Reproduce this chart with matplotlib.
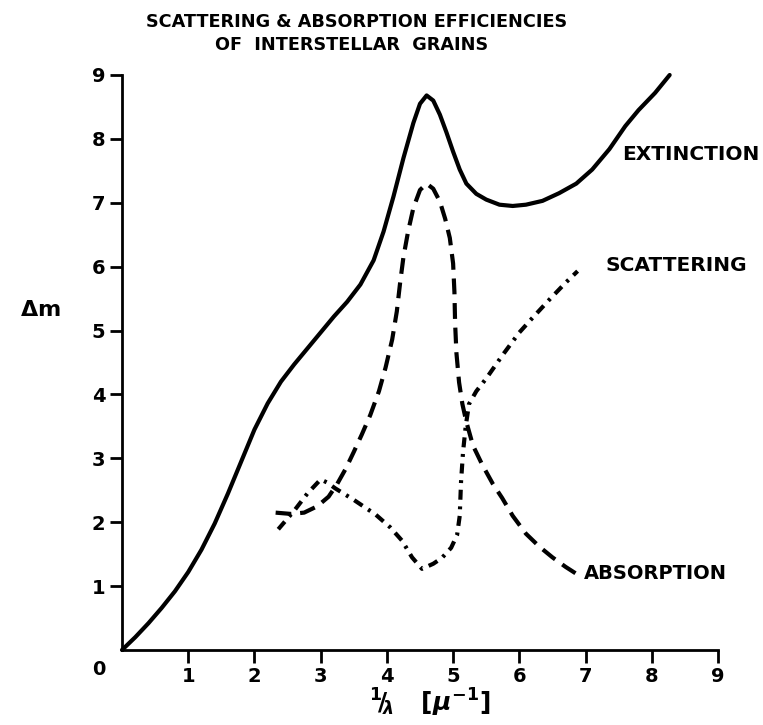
import matplotlib
matplotlib.use('Agg')
import matplotlib.pyplot as plt

# Courbes (1/lambda en micron^-1, delta m)
ext_x = [0.0, 0.2, 0.4, 0.6, 0.8, 1.0, 1.2, 1.4, 1.6, 1.8, 2.0, 2.2, 2.4, 2.6, 2.8, 3.0, 3.2, 3.4, 3.6, 3.8, 3.95, 4.1, 4.25, 4.4, 4.5, 4.6, 4.7, 4.8, 4.9, 5.0, 5.1, 5.2, 5.35, 5.5, 5.7, 5.9, 6.1, 6.35, 6.6, 6.86, 7.1, 7.36, 7.6, 7.8, 8.05, 8.27]
ext_y = [0.0, 0.2, 0.42, 0.66, 0.92, 1.22, 1.57, 1.98, 2.45, 2.95, 3.45, 3.86, 4.2, 4.47, 4.72, 4.97, 5.22, 5.45, 5.72, 6.1, 6.55, 7.1, 7.7, 8.25, 8.55, 8.68, 8.6, 8.38, 8.1, 7.8, 7.52, 7.3, 7.14, 7.05, 6.97, 6.95, 6.97, 7.03, 7.15, 7.3, 7.52, 7.84, 8.2, 8.45, 8.72, 9.0]

abs_x = [2.32, 2.55, 2.75, 2.95, 3.12, 3.25, 3.38, 3.5, 3.62, 3.75, 3.88, 3.98, 4.08, 4.15, 4.2, 4.25, 4.32, 4.4, 4.5, 4.6, 4.7, 4.8, 4.88, 4.95, 5.0, 5.02, 5.03, 5.05, 5.09, 5.14, 5.2, 5.3, 5.44, 5.6, 5.74, 5.9, 6.1, 6.3, 6.5, 6.7, 6.85]
abs_y = [2.15, 2.13, 2.15, 2.25, 2.4, 2.6, 2.84, 3.1, 3.37, 3.68, 4.05, 4.42, 4.86, 5.3, 5.75, 6.15, 6.55, 6.92, 7.2, 7.3, 7.22, 7.02, 6.75, 6.45, 6.05, 5.6, 5.12, 4.65, 4.19, 3.85, 3.57, 3.2, 2.9, 2.6, 2.38, 2.1, 1.82, 1.62, 1.45, 1.3, 1.2]

sca_x = [2.36, 2.6, 2.8, 3.0, 3.1, 3.22, 3.5, 3.83, 4.05, 4.23, 4.38, 4.53, 4.7, 4.83, 4.97, 5.06, 5.1, 5.12, 5.15, 5.19, 5.24, 5.35, 5.5, 5.75, 6.0, 6.2, 6.45, 6.7, 6.88]
sca_y = [1.89, 2.18, 2.45, 2.67, 2.62, 2.53, 2.35, 2.12, 1.92, 1.71, 1.45, 1.27, 1.35, 1.44, 1.6, 1.8, 2.1, 2.64, 3.1, 3.5, 3.85, 4.05, 4.25, 4.62, 4.97, 5.2, 5.48, 5.75, 5.93]

xticks = [1, 2, 3, 4, 5, 6, 7, 8, 9]
yticks = [1, 2, 3, 4, 5, 6, 7, 8, 9]

plt.rcParams['font.family'] = ['DejaVu Sans']
plt.rcParams['font.weight'] = 'bold'

fig = plt.figure(figsize=(7.63, 7.25), dpi=100)
ax = fig.add_axes([122/763, 75/725, 596/763, 575/725])

ax.plot(ext_x, ext_y, color='black', lw=3, solid_capstyle='round', solid_joinstyle='round', clip_on=False)
ax.plot(abs_x, abs_y, color='black', lw=3, dashes=(3.8, 2.1), dash_capstyle='butt', dash_joinstyle='round', clip_on=False)
ax.plot(sca_x, sca_y, color='black', lw=3, dashes=(2.4, 1.6, 0.7, 1.6), dash_capstyle='butt', dash_joinstyle='round', clip_on=False)

ax.set_xlim(0, 9)
ax.set_ylim(0, 9)
ax.set_xticks(xticks)
ax.set_yticks(yticks)
ax.set_xticklabels([str(v) for v in xticks], fontsize=14, fontweight='bold')
ax.set_yticklabels([str(v) for v in yticks], fontsize=14, fontweight='bold')
ax.tick_params(direction='out', length=9, width=2, pad=3)
for s in ['top', 'right']:
    ax.spines[s].set_visible(False)
for s in ['left', 'bottom']:
    ax.spines[s].set_linewidth(2)

# Origine
ax.text(-0.35, -0.3, '0', fontsize=14, fontweight='bold', ha='center', va='center', clip_on=False)

# Etiquettes des courbes
ax.text(7.55, 7.75, 'EXTINCTION', fontsize=14.5, fontweight='bold', ha='left', va='center', clip_on=False)
ax.text(7.3, 6.02, 'SCATTERING', fontsize=14.5, fontweight='bold', ha='left', va='center', clip_on=False)
ax.text(6.97, 1.2, 'ABSORPTION', fontsize=14, fontweight='bold', ha='left', va='center', clip_on=False)

# Titre + axes
fig.text(357/763, 1 - 22/725, 'SCATTERING & ABSORPTION EFFICIENCIES', fontsize=12.7, fontweight='bold', ha='center', va='center')
fig.text(352/763, 1 - 45/725, 'OF  INTERSTELLAR  GRAINS', fontsize=12.7, fontweight='bold', ha='center', va='center')
fig.text(40/763, 1 - 310/725, r'$\Delta$m', fontsize=16, ha='center', va='center')
fig.text(430/763, 1 - 703/725, r'$^{1}\!/\!_{\lambda}$   [$\mu^{-1}$]', fontsize=18, ha='center', va='center')

fig.savefig('out.png', dpi=100)
